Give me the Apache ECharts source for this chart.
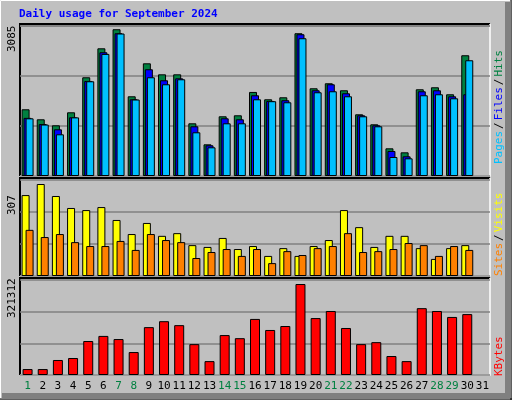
<!DOCTYPE html>
<html><head><meta charset="utf-8">
<script src="https://cdn.jsdelivr.net/npm/echarts@6/dist/echarts.min.js"></script>
<style>html,body{margin:0;padding:0;background:#c0c0c0}#c{width:512px;height:400px}</style>
</head><body><div id="c"></div>
<script>
const days = Array.from({length:31},(_,i)=>String(i+1));
const weekendDays = ['1','7','8','14','15','21','22','28','29'];
const hits  = [1400,1190,1064,1337,2072,2680,3080,1673,2365,2134,2134,1106,665,1253,1274,1764,1610,1652,2996,1841,1946,1799,1295,1085,581,497,1820,1862,1715,2534,null];
const files = [1220,1090,980,1232,1995,2597,2996,1610,2240,2009,2050,1043,644,1211,1190,1694,1575,1590,2975,1799,1925,1736,1274,1064,525,413,1778,1799,1673,1715,null];
const pages = [1210,1080,875,1230,1988,2562,2990,1605,2072,1925,2030,917,602,1106,1106,1610,1570,1547,2891,1757,1778,1673,1253,1043,399,371,1694,1715,1631,2429,null];
const sites = [270,307,267,227,220,230,187,140,177,134,143,103,97,127,90,100,67,93,67,100,120,220,163,97,134,134,93,57,93,103,null];
const visits= [154,130,140,113,100,100,117,87,140,120,113,60,80,90,67,90,43,83,70,93,100,143,80,83,90,110,103,67,100,87,null];
const kbytes= [21000,21000,53000,60000,120000,138000,127000,81000,169000,190000,176000,109000,49000,141000,130000,198000,159000,173000,321312,201000,226000,166000,109000,116000,67000,49000,236000,226000,205000,215000,null];
const maxLabels = ['3085','307','321312'];
const title = 'Daily usage for September 2024';

const F = 'DejaVu Sans Mono, monospace';
const max1 = 3085*150/147, max2 = 307*96/92, max3 = 321312*95/91;
const grids = [
  {left:20,right:22,top:26,height:150},
  {left:20,right:22,top:180,height:96},
  {left:20,right:22,top:280,height:95}
];
function xa(i,show){return {type:'category',gridIndex:i,data:days,axisTick:{show:false},axisLine:{show:false},
  axisLabel:{show:show,fontFamily:F,fontSize:11,margin:6,interval:0,
    color:(v)=>weekendDays.includes(v)?'#008040':'#000'}};}
function ya(i,m){return {type:'value',gridIndex:i,min:0,max:m,interval:m/3,axisLabel:{show:false},axisLine:{show:false},axisTick:{show:false},
  splitLine:{lineStyle:{color:'#808080',width:1.5}}};}
const bs = {borderColor:'#000',borderWidth:1};
const opt = {
  animation:false,backgroundColor:'#c0c0c0',
  grid:grids,
  xAxis:[xa(0,false),xa(1,false),xa(2,true)],
  yAxis:[ya(0,max1),ya(1,max2),ya(2,max3)],
  series:[
    {type:'bar',xAxisIndex:0,yAxisIndex:0,data:hits,barWidth:8,barGap:'-75%',itemStyle:{color:'#008040',...bs}},
    {type:'bar',xAxisIndex:0,yAxisIndex:0,data:files,barWidth:8,barGap:'-75%',itemStyle:{color:'#0000ff',...bs}},
    {type:'bar',xAxisIndex:0,yAxisIndex:0,data:pages,barWidth:8,barGap:'-75%',itemStyle:{color:'#00c0ff',...bs}},
    {type:'bar',xAxisIndex:1,yAxisIndex:1,data:sites,barWidth:8,barGap:'-50%',itemStyle:{color:'#ffff00',...bs}},
    {type:'bar',xAxisIndex:1,yAxisIndex:1,data:visits,barWidth:8,barGap:'-50%',itemStyle:{color:'#ff8000',...bs}},
    {type:'bar',xAxisIndex:2,yAxisIndex:2,data:kbytes,barWidth:10,itemStyle:{color:'#ff0000',...bs}}
  ],
  graphic:[
    {type:'rect',shape:{x:0.5,y:0.5,width:510,height:398},style:{fill:'none',stroke:'#fff',lineWidth:1},z:-1},
    {type:'line',shape:{x1:511,y1:0,x2:511,y2:400},style:{stroke:'#000',lineWidth:1}},
    {type:'line',shape:{x1:0,y1:399,x2:512,y2:399},style:{stroke:'#000',lineWidth:1}},
    {type:'rect',shape:{x:505,y:2,width:5,height:396},style:{fill:'#808080'}},
    {type:'rect',shape:{x:2,y:393,width:506,height:5},style:{fill:'#808080'}},
    {type:'text',left:19,top:9,style:{text:title,font:'bold 11px '+F,fill:'#0000ff'}},
    // panel frames
    ...grids.map(g=>({type:'polyline',shape:{points:[[20,g.top+g.height],[20,g.top-2],[490,g.top-2]]},style:{stroke:'#000',lineWidth:2,fill:'none'}})),
    ...grids.map(g=>({type:'polyline',shape:{points:[[490,g.top-2],[490,g.top+g.height],[20,g.top+g.height]]},style:{stroke:'#fff',lineWidth:1.5,fill:'none'}})),
    {type:'text',x:7,y:52,rotation:Math.PI/2,style:{text:maxLabels[0],font:'11px '+F,fill:'#000'}},
    {type:'text',x:7,y:215,rotation:Math.PI/2,style:{text:maxLabels[1],font:'11px '+F,fill:'#000'}},
    {type:'text',x:7,y:318,rotation:Math.PI/2,style:{text:maxLabels[2],font:'11px '+F,fill:'#000'}},
    {type:'text',x:494,y:164,rotation:Math.PI/2,style:{text:'{p|Pages}{s|/}{f|Files}{s|/}{h|Hits}',font:'11px '+F,
      rich:{p:{fill:'#00c0ff',font:'11px '+F},f:{fill:'#0000ff',font:'11px '+F},h:{fill:'#008040',font:'11px '+F},s:{fill:'#000',font:'11px '+F,padding:[0,2]}}}},
    {type:'text',x:494,y:276,rotation:Math.PI/2,style:{text:'{v|Sites}{s|/}{w|Visits}',font:'11px '+F,
      rich:{v:{fill:'#ff8000',font:'11px '+F},w:{fill:'#ffff00',font:'11px '+F},s:{fill:'#000',font:'11px '+F,padding:[0,2]}}}},
    {type:'text',x:494,y:376,rotation:Math.PI/2,style:{text:'KBytes',font:'11px '+F,fill:'#ff0000'}}
  ]
};
echarts.init(document.getElementById('c')).setOption(opt);
</script></body></html>
